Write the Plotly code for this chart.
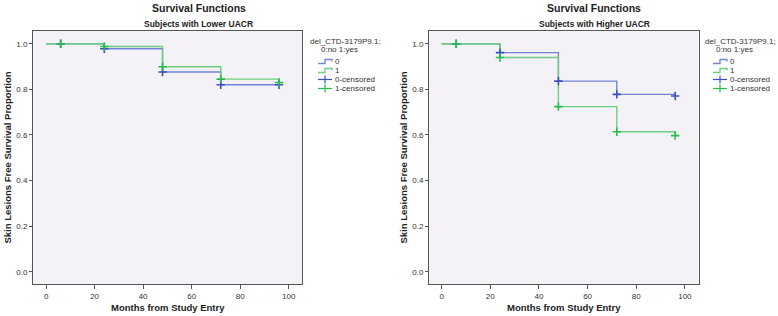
import plotly.graph_objects as go

# ---------------- data ----------------
step_times = [0, 24, 48, 72, 96]
censor_times = [6, 24, 48, 72, 96]

# Lower UACR panel
low_surv_0 = [1.0, 0.978, 0.876, 0.820, 0.820]
low_surv_1 = [1.0, 0.988, 0.899, 0.845, 0.830]
# Higher UACR panel
high_surv_0 = [1.0, 0.961, 0.836, 0.778, 0.771]
high_surv_1 = [1.0, 0.940, 0.724, 0.614, 0.597]

x_ticks = [0, 20, 40, 60, 80, 100]
y_ticks = [0.0, 0.2, 0.4, 0.6, 0.8, 1.0]
y_tick_labels = ["0.0", "0.2", "0.4", "0.6", "0.8", "1.0"]

panel_titles = ["Subjects with Lower UACR", "Subjects with Higher UACR"]
legend_title_1 = "del_CTD-3179P9.1;"
legend_title_2 = "0:no 1:yes"
legend_labels = ["0", "1", "0-censored", "1-censored"]

# ---------------- style ----------------
W, H = 778, 316
FONT = "Liberation Sans, Arial, sans-serif"
BLUE_LINE = "#7383d6"
BLUE_MARK = "#3a4fc2"
GREEN_LINE = "#6ccf80"
GREEN_MARK = "#27bd48"
BG = "#f5f2f7"
TXT = "#222222"


def censor_vals(times, surv, ctimes):
    out = []
    for c in ctimes:
        v = surv[0]
        for t, s in zip(times, surv):
            if t <= c:
                v = s
        out.append(v)
    return out


def px(x):
    return x / W


def py(y):
    return 1 - y / H


fig = go.Figure()

panels = [
    ("x", "y", low_surv_0, low_surv_1),
    ("x2", "y2", high_surv_0, high_surv_1),
]
for xa, ya, s0, s1 in panels:
    fig.add_trace(go.Scatter(x=step_times, y=s0, mode="lines", line=dict(color=BLUE_LINE, width=1.4, shape="hv"),
                             xaxis=xa, yaxis=ya, showlegend=False, hoverinfo="skip"))
    fig.add_trace(go.Scatter(x=step_times, y=s1, mode="lines", line=dict(color=GREEN_LINE, width=1.4, shape="hv"),
                             xaxis=xa, yaxis=ya, showlegend=False, hoverinfo="skip"))
    fig.add_trace(go.Scatter(x=censor_times, y=censor_vals(step_times, s0, censor_times), mode="markers",
                             marker=dict(symbol="cross-thin", size=6, line=dict(color=BLUE_MARK, width=1.6)),
                             xaxis=xa, yaxis=ya, showlegend=False, hoverinfo="skip"))
    fig.add_trace(go.Scatter(x=censor_times, y=censor_vals(step_times, s1, censor_times), mode="markers",
                             marker=dict(symbol="cross-thin", size=6, line=dict(color=GREEN_MARK, width=1.6)),
                             xaxis=xa, yaxis=ya, showlegend=False, hoverinfo="skip"))

plot_top, plot_bot = 31, 284
ydom = [py(plot_bot), py(plot_top)]
left_dom = [px(33), px(302)]
right_dom = [px(429), px(698.5)]

axis_common = dict(showgrid=False, zeroline=False, showline=True, linecolor="#555555", linewidth=1,
                   mirror=True, ticks="outside", tickcolor="#555555", tickfont=dict(family=FONT, size=8, color="#333333"))

fig.update_layout(
    width=W, height=H, margin=dict(l=0, r=0, t=0, b=0),
    paper_bgcolor="white", plot_bgcolor=BG, showlegend=False,
    xaxis=dict(domain=left_dom, range=[-5.4, 105.5], tickvals=x_ticks, ticklen=4, anchor="y", **axis_common),
    yaxis=dict(domain=ydom, range=[-0.054, 1.056], tickvals=y_ticks, ticktext=y_tick_labels, ticklen=3, anchor="x", **axis_common),
    xaxis2=dict(domain=right_dom, range=[-5.2, 105.6], tickvals=x_ticks, ticklen=4, anchor="y2", **axis_common),
    yaxis2=dict(domain=ydom, range=[-0.054, 1.056], tickvals=y_ticks, ticktext=y_tick_labels, ticklen=3, anchor="x2", **axis_common),
)

annotations = []
shapes = []
panel_geom = [
    # title center x, plot center x, ytitle x, legend text x, legend icon x0
    (199, 167.5, 7, 308, 318),
    (594, 563.5, 403, 703, 713),
]
for (tcx, pcx, ytx, ltx, lix), ptitle in zip(panel_geom, panel_titles):
    annotations.append(dict(x=px(tcx), y=py(8), xref="paper", yref="paper", text="<b>Survival Functions</b>",
                            showarrow=False, xanchor="center", yanchor="middle",
                            font=dict(family=FONT, size=10.5, color=TXT)))
    annotations.append(dict(x=px(tcx), y=py(24), xref="paper", yref="paper", text="<b>%s</b>" % ptitle,
                            showarrow=False, xanchor="center", yanchor="middle",
                            font=dict(family=FONT, size=8.5, color=TXT)))
    annotations.append(dict(x=px(pcx), y=py(307), xref="paper", yref="paper", text="<b>Months from Study Entry</b>",
                            showarrow=False, xanchor="center", yanchor="middle",
                            font=dict(family=FONT, size=9.5, color=TXT)))
    annotations.append(dict(x=px(ytx), y=py(157.5), xref="paper", yref="paper",
                            text="<b>Skin Lesions Free Survival Proportion</b>", textangle=-90,
                            showarrow=False, xanchor="center", yanchor="middle",
                            font=dict(family=FONT, size=9.5, color=TXT)))
    # legend titles
    annotations.append(dict(x=px(ltx), y=py(41.5), xref="paper", yref="paper", text=legend_title_1,
                            showarrow=False, xanchor="left", yanchor="middle",
                            font=dict(family=FONT, size=8, color="#333333")))
    annotations.append(dict(x=px(ltx + 31), y=py(49.5), xref="paper", yref="paper", text=legend_title_2,
                            showarrow=False, xanchor="center", yanchor="middle",
                            font=dict(family=FONT, size=8, color="#333333")))
    item_y = [61.5, 70.5, 79.5, 88.5]
    cols = [(BLUE_LINE, BLUE_MARK), (GREEN_LINE, GREEN_MARK), (BLUE_LINE, BLUE_MARK), (GREEN_LINE, GREEN_MARK)]
    for i, (lab, yy) in enumerate(zip(legend_labels, item_y)):
        lc, mc = cols[i]
        if i < 2:
            path = "M %f %f L %f %f L %f %f L %f %f L %f %f" % (
                px(lix), py(yy + 2), px(lix + 7), py(yy + 2), px(lix + 7), py(yy - 2),
                px(lix + 14), py(yy - 2), px(lix + 14), py(yy))
            shapes.append(dict(type="path", path=path, xref="paper", yref="paper",
                               line=dict(color=lc, width=1.3)))
        else:
            shapes.append(dict(type="line", x0=px(lix), x1=px(lix + 14), y0=py(yy), y1=py(yy),
                               xref="paper", yref="paper", line=dict(color=mc, width=1.2)))
            shapes.append(dict(type="line", x0=px(lix + 7), x1=px(lix + 7), y0=py(yy - 4), y1=py(yy + 4),
                               xref="paper", yref="paper", line=dict(color=mc, width=1.2)))
        annotations.append(dict(x=px(lix + 15), y=py(yy), xref="paper", yref="paper", text=lab,
                                showarrow=False, xanchor="left", yanchor="middle",
                                font=dict(family=FONT, size=8, color="#333333")))

fig.update_layout(annotations=annotations, shapes=shapes)
fig.write_html("out.html", config={"displayModeBar": False},
               post_script="document.body.style.margin='0';document.body.style.overflow='hidden';")
